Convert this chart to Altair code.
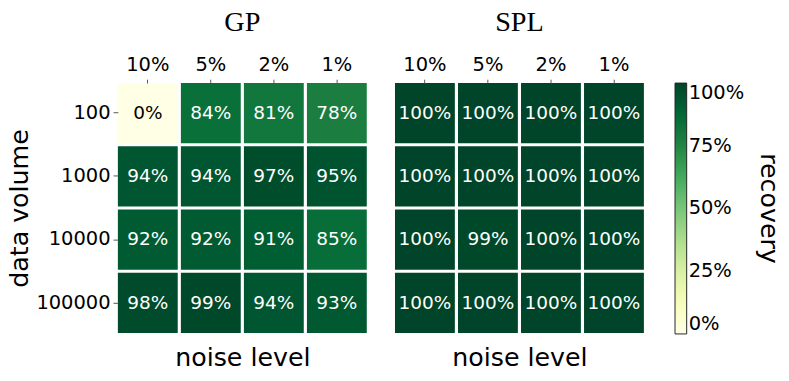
import altair as alt
import pandas as pd

noise = ["10%", "5%", "2%", "1%"]
volume = ["100", "1000", "10000", "100000"]
gp_values = [
    [0.00, 0.84, 0.81, 0.78],
    [0.94, 0.94, 0.97, 0.95],
    [0.92, 0.92, 0.91, 0.85],
    [0.98, 0.99, 0.94, 0.93],
]
spl_values = [
    [1.00, 1.00, 1.00, 1.00],
    [1.00, 1.00, 1.00, 1.00],
    [1.00, 0.99, 1.00, 1.00],
    [1.00, 1.00, 1.00, 1.00],
]
# YlGn colour map stops
ylgn = ["#ffffe5", "#f7fcb9", "#d9f0a3", "#addd8e", "#78c679",
        "#41ab5d", "#238443", "#006837", "#004529"]
ylgn_domain = [0, 0.125, 0.25, 0.375, 0.5, 0.625, 0.75, 0.875, 1]

rows = []
for method, grid in (("GP", gp_values), ("SPL", spl_values)):
    for i, v in enumerate(volume):
        for j, n in enumerate(noise):
            rows.append({"method": method, "volume": v, "noise": n, "value": grid[i][j]})
df = pd.DataFrame(rows)

FONT = "DejaVu Sans"


def panel(method, show_y):
    base = alt.Chart(df).transform_filter(alt.datum.method == method)
    xscale = alt.Scale(paddingInner=0.05, paddingOuter=0)
    yscale = alt.Scale(paddingInner=0.05, paddingOuter=0)
    if show_y:
        yaxis = alt.Axis(title="data volume", titleFontSize=26, titleFont=FONT,
                         titleFontWeight="normal", titlePadding=4,
                         labelFontSize=20, labelFont=FONT, labelPadding=3,
                         tickSize=5, domain=False, tickColor="#555")
    else:
        yaxis = None
    y = alt.Y("volume:N", sort=volume, scale=yscale, axis=yaxis)
    rect = base.mark_rect().encode(
        x=alt.X("noise:N", sort=noise, scale=xscale,
                axis=alt.Axis(orient="top", title=None, labelAngle=0,
                              labelFontSize=20, labelFont=FONT, labelPadding=5,
                              tickSize=4, domain=False, tickColor="#555")),
        y=y,
        color=alt.Color("value:Q",
                        scale=alt.Scale(domain=ylgn_domain, range=ylgn, interpolate="rgb"),
                        legend=alt.Legend(title="recovery", format=".0%",
                                          values=[0, 0.25, 0.5, 0.75, 1])),
    )
    text = base.mark_text(fontSize=19, font=FONT).encode(
        x=alt.X("noise:N", sort=noise, scale=xscale,
                axis=alt.Axis(orient="bottom", title="noise level", labels=False,
                              ticks=False, domain=False, titleFontSize=26,
                              titleFont=FONT, titleFontWeight="normal",
                              titlePadding=12)),
        y=y,
        text=alt.Text("value:Q", format=".0%"),
        color=alt.condition(alt.datum.value < 0.5, alt.value("black"), alt.value("white")),
    )
    return (alt.layer(rect, text)
            .resolve_axis(x="independent")
            .properties(width=256, height=257,
                        title=alt.TitleParams(method, font="Liberation Serif",
                                              fontSize=29, fontWeight="normal",
                                              offset=19)))


chart = (alt.hconcat(panel("GP", True), panel("SPL", False), spacing=29)
         .properties(padding={"left": -2, "top": -5, "right": 0, "bottom": 0})
         .configure_view(stroke=None)
         .configure_legend(gradientLength=258, gradientThickness=12, offset=32,
                           labelFontSize=20, labelFont=FONT,
                           titleOrient="right", titleFontSize=26,
                           titleFont=FONT, titleFontWeight="normal",
                           titleAnchor="middle",
                           gradientStrokeColor="#222", gradientStrokeWidth=1,
                           titlePadding=12, labelOffset=11))

chart.save("out.html", embed_options={"renderer": "svg", "actions": False})
